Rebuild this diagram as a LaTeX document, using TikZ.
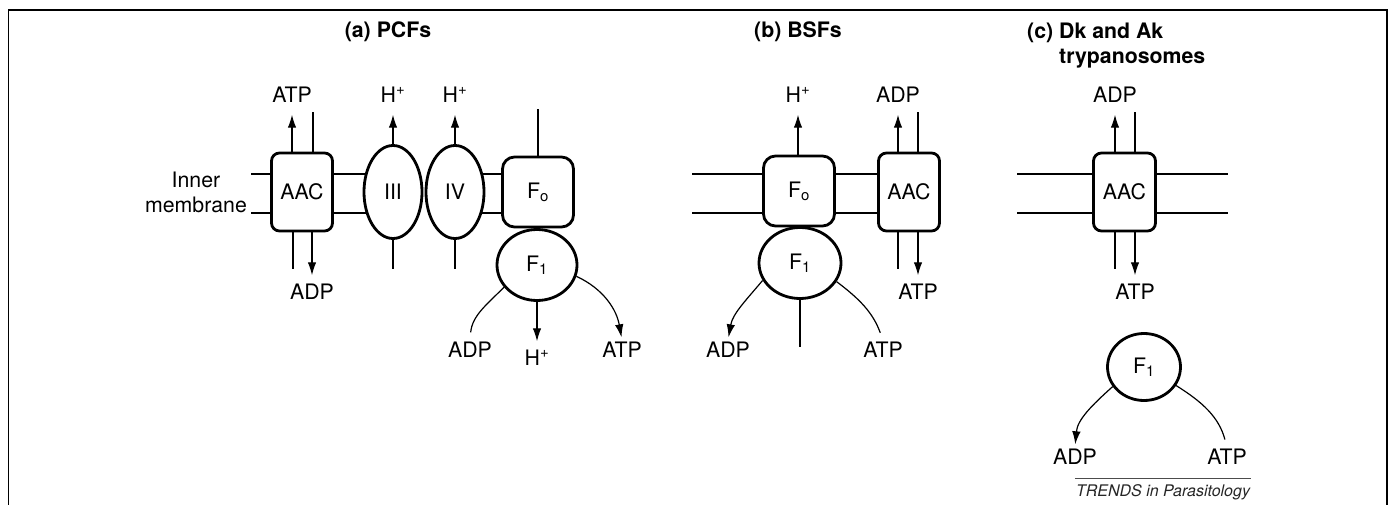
\documentclass[tikz,border=0pt]{standalone}
\usepackage{fontspec}
\setmainfont{TeX Gyre Heros}
\usetikzlibrary{arrows.meta,shapes.geometric,backgrounds}

\begin{document}
\begin{tikzpicture}[x=1pt, y=1pt,
  every node/.style={font=\fontsize{21.3}{25}\selectfont},
  ttl/.style={font=\fontsize{21.3}{25}\selectfont\bfseries},
  lbl/.style={inner sep=2pt, text height=15pt, text depth=0pt},
  carrier/.style={draw, line width=2.8pt, rounded corners=8pt, fill=white,
    inner sep=0pt, minimum width=61pt, minimum height=78pt},
  fo/.style={carrier, rounded corners=12pt, minimum width=71pt, minimum height=70pt},
  cplx/.style={draw, ellipse, line width=2.8pt, fill=white, inner sep=0pt,
    minimum width=58pt, minimum height=93pt},
  fone/.style={cplx, minimum width=80pt, minimum height=71pt},
  membrane/.style={line width=2.5pt},
  wire/.style={line width=1.2pt},
  flow/.style={wire, -{Latex[length=13pt,width=8.5pt]}},
  flowup/.style={flow, shorten >=10pt},
  flowdn/.style={flow, shorten >=7pt},
]

\useasboundingbox (0,0) rectangle (1390,-505);
\draw[line width=1.8pt] (8.5,-505) -- (8.5,-10) -- (1387,-10) -- (1387,-505);

\coordinate (mtop) at (0,-174);
\coordinate (mbot) at (0,-213);

% (a) PCFs
\node[ttl] (ttlA) at (388,-32) {(a) PCFs};
\node[align=center] (inner) at (196,-192) {Inner\\membrane};
\node[carrier] (aacA) at (302,-192) {AAC};
\node[cplx] (cIII) at (393,-192) {III};
\node[cplx] (cIV) at (455,-192) {IV};
\node[fo] (foA) at (538,-192) {F\textsubscript{o}};
\node[fone] (fA) at (537,-265) {F\textsubscript{1}};

\node[lbl] (atpA) at (292,-95) {ATP};
\node[lbl] (adpA) at (312,-292) {ADP};
\node[lbl] (hIII) at (393,-95) {H\textsuperscript{+}};
\node[lbl] (hIV) at (455,-95) {H\textsuperscript{+}};
\node[lbl] (adpA2) at (470,-350) {ADP};
\node[lbl] (hA) at (537,-358) {H\textsuperscript{+}};
\node[lbl] (atpA2) at (622,-350) {ATP};

\draw[flowup] (aacA.north -| atpA) -- (atpA);
\draw[wire] ([xshift=11pt]aacA.north) -- ++(0,40);
\draw[wire] ([xshift=-9pt]aacA.south) -- ++(0,-37);
\draw[flowdn] (aacA.south -| adpA) -- (adpA);
\draw[flowup] (cIII.north) -- (hIII);
\draw[flowup] (cIV.north) -- (hIV);
\draw[wire] (cIII.south) -- ++(0,-29);
\draw[wire] (cIV.south) -- ++(0,-29);
\draw[wire] (foA.north) -- ++(0,47);
\draw[flowdn] (fA.south) -- (hA);
\draw[wire, shorten >=8pt] (fA.214) to[out=225, in=85] (adpA2.north);
\draw[flow, shorten >=3pt] (fA.344) to[out=-25, in=100] (atpA2.north);

% (b) BSFs
\node[ttl] (ttlB) at (798,-32) {(b) BSFs};
\node[fo] (foB) at (799,-191) {F\textsubscript{o}};
\node[carrier] (aacB) at (909,-192) {AAC};
\node[fone, minimum width=82pt] (fB) at (800,-263) {F\textsubscript{1}};

\node[lbl] (hB) at (798,-95) {H\textsuperscript{+}};
\node[lbl] (adpB) at (898,-95) {ADP};
\node[lbl] (atpB) at (918,-292) {ATP};
\node[lbl] (adpB2) at (728,-350) {ADP};
\node[lbl] (atpB2) at (883,-350) {ATP};

\draw[flowup] (foB.north -| hB) -- (hB);
\draw[flowup] (aacB.north -| adpB) -- (adpB);
\draw[wire] ([xshift=9pt]aacB.north) -- ++(0,40);
\draw[wire] ([xshift=-11pt]aacB.south) -- ++(0,-37);
\draw[flowdn] (aacB.south -| atpB) -- (atpB);
\draw[wire] (fB.south) -- ++(0,-47);
\draw[flow, shorten >=3pt] (fB.205) to[out=230, in=80] (adpB2.north);
\draw[wire, shorten >=8pt] (fB.333) to[out=-37, in=110] (atpB2.north);

% (c) Dk and Ak trypanosomes
\node[ttl, anchor=base west, inner sep=0pt] (ttlC) at (1027,-39)
  {\begin{tabular}[t]{@{}l@{ }l@{}}(c)&Dk and Ak\\&trypanosomes\end{tabular}};
\node[carrier, minimum width=62pt] (aacC) at (1124.5,-192) {AAC};
\node[fone, minimum width=73pt, minimum height=67pt] (fC) at (1144,-367) {F\textsubscript{1}};

\node[lbl] (adpC) at (1115,-95) {ADP};
\node[lbl] (atpC) at (1135,-292) {ATP};
\node[lbl] (adpC2) at (1075,-457) {ADP};
\node[lbl] (atpC2) at (1227,-457) {ATP};

\draw[flowup] (aacC.north -| adpC) -- (adpC);
\draw[wire] ([xshift=10.5pt]aacC.north) -- ++(0,40);
\draw[wire] ([xshift=-9.5pt]aacC.south) -- ++(0,-37);
\draw[flowdn] (aacC.south -| atpC) -- (atpC);
\draw[flow, shorten >=3pt] (fC.212) to[out=222, in=85] (adpC2.north);
\draw[wire, shorten >=8pt] (fC.330) to[out=-32, in=105] (atpC2.north);

\node[font=\fontsize{16}{19}\selectfont\itshape, text=black!85, anchor=base,
  text height=11.5pt, text depth=3.5pt, inner xsep=1pt, inner ysep=6pt]
  (trends) at (1163,-496) {TRENDS in Parasitology};
\draw[line width=0.7pt, black!70] (trends.north west) -- (trends.north east);

% membranes
\begin{scope}[on background layer]
\draw[membrane] (aacA.west |- mtop) -- ++(-19,0);
\draw[membrane] (aacA.west |- mbot) -- ++(-19,0);
\draw[membrane] (aacA.east |- mtop) -- (cIII |- mtop);
\draw[membrane] (aacA.east |- mbot) -- (cIII |- mbot);
\draw[membrane] (cIV |- mtop) -- (foA.west |- mtop);
\draw[membrane] (cIV |- mbot) -- (foA.west |- mbot);

\draw[membrane] (foB.west |- mtop) -- ++(-70,0);
\draw[membrane] (foB.west |- mbot) -- ++(-70,0);
\draw[membrane] (foB.east |- mtop) -- (aacB.west |- mtop);
\draw[membrane] (foB.east |- mbot) -- (aacB.west |- mbot);

\draw[membrane] (aacC.west |- mtop) -- ++(-75,0);
\draw[membrane] (aacC.west |- mbot) -- ++(-75,0);
\draw[membrane] (aacC.east |- mtop) -- ++(71,0);
\draw[membrane] (aacC.east |- mbot) -- ++(71,0);
\end{scope}

\end{tikzpicture}
\end{document}
